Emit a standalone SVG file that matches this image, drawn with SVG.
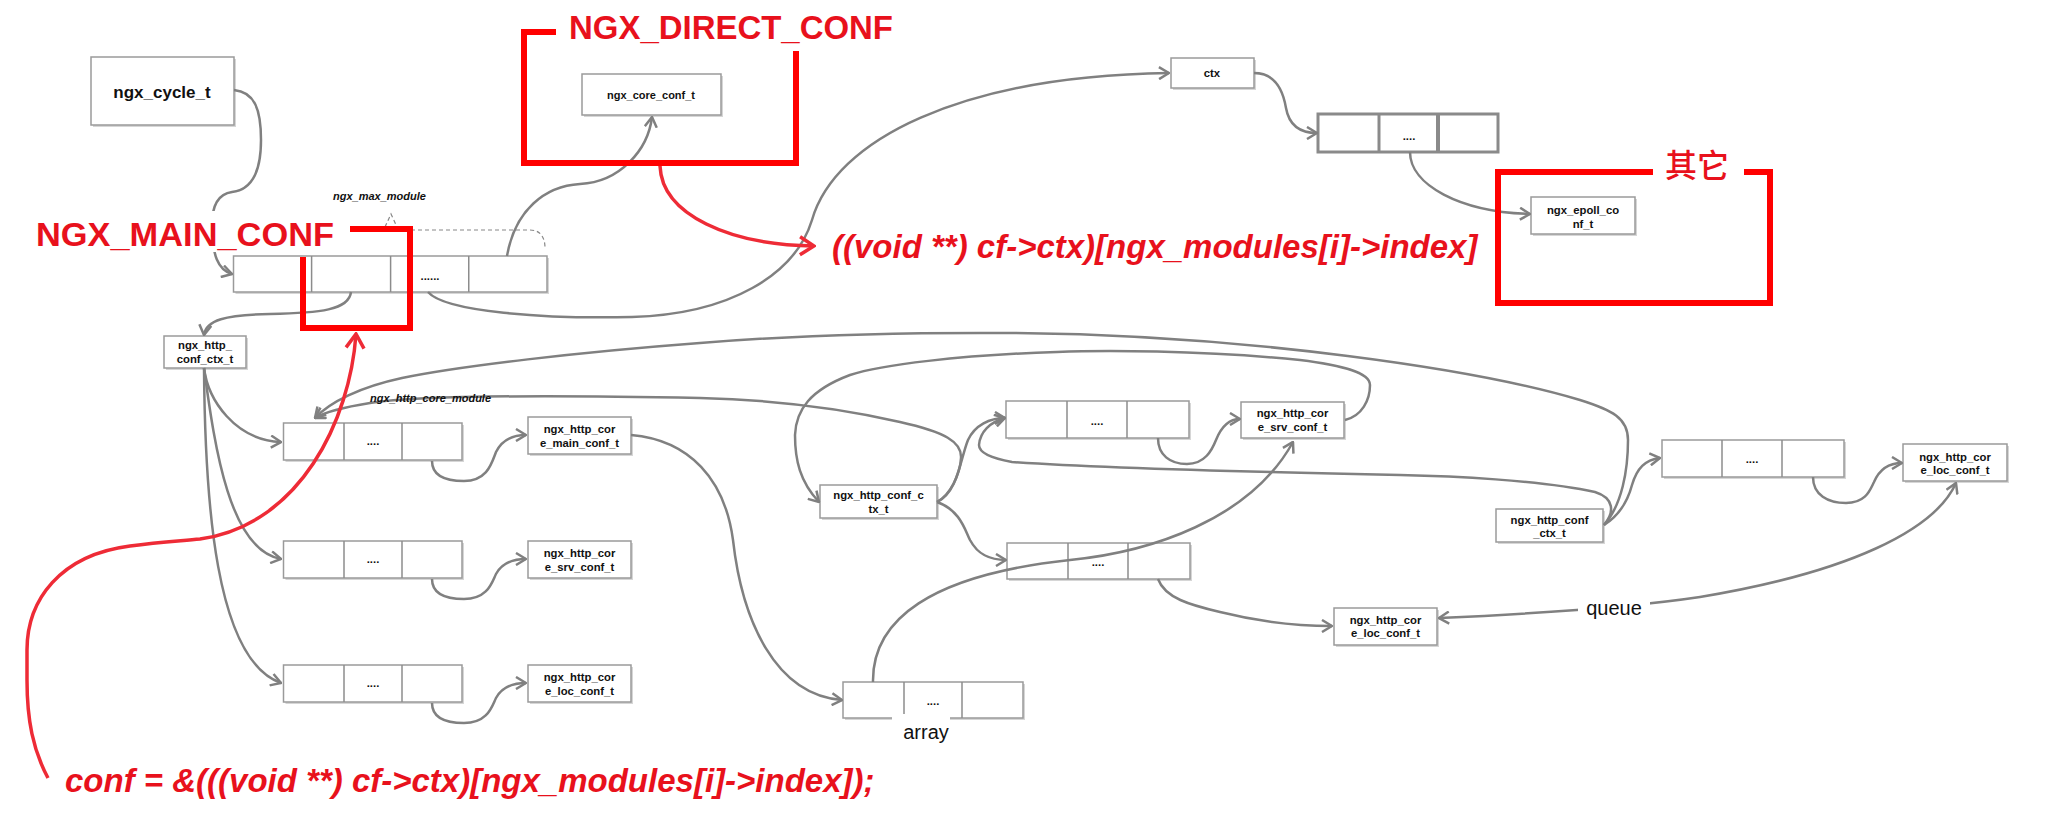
<svg xmlns="http://www.w3.org/2000/svg" width="2048" height="819" viewBox="0 0 2048 819">
<defs>
<style>
.box{fill:#fff;stroke:#9a9a9a;stroke-width:1.5}
.sh{fill:#d6d6d6}
.dv{stroke:#8c8c8c;stroke-width:1.5}
.t{font-family:"Liberation Sans",Arial,sans-serif;font-size:11.3px;font-weight:bold;fill:#111;text-anchor:middle}
.it{font-family:"Liberation Sans",Arial,sans-serif;font-size:11px;font-weight:bold;font-style:italic;fill:#111}
.lbl{font-family:"Liberation Sans",Arial,sans-serif;font-size:20px;fill:#111;text-anchor:middle}
.c{fill:none;stroke:#808080;stroke-width:2.5;marker-end:url(#ah)}
.rb{fill:none;stroke:#ff0000;stroke-width:6}
.rc{fill:none;stroke:#ee2b36;stroke-width:3.5;marker-end:url(#rah)}
.rt{font-family:"Liberation Sans",Arial,sans-serif;font-weight:bold;fill:#e8111c}
.dash{fill:none;stroke:#888;stroke-width:1.2;stroke-dasharray:4 3}
</style>
<marker id="ah" viewBox="0 0 12 14" refX="11" refY="7" markerWidth="12" markerHeight="14" markerUnits="userSpaceOnUse" orient="auto-start-reverse">
<path d="M1,1 L11,7 L1,13" fill="none" stroke="#808080" stroke-width="2.5"/>
</marker>
<marker id="rah" viewBox="0 0 18 22" refX="16" refY="11" markerWidth="18" markerHeight="22" markerUnits="userSpaceOnUse" orient="auto">
<path d="M2,2 L16,11 L2,20" fill="none" stroke="#ee2b36" stroke-width="3.5"/>
</marker>
</defs>
<rect width="2048" height="819" fill="#fff"/>

<g id="n-cycle">
<rect class="sh" x="93" y="59" width="143" height="68"/>
<rect class="box" x="91" y="57" width="143" height="68"/>
<text class="t" x="162" y="98" style="font-size:17px">ngx_cycle_t</text>
</g>

<g id="n-core-conf">
<rect class="sh" x="584" y="76" width="139" height="41"/>
<rect class="box" x="582" y="74" width="139" height="41"/>
<text class="t" x="651" y="99" style="font-size:11px">ngx_core_conf_t</text>
</g>

<g id="n-main-array">
<rect class="sh" x="235.5" y="258" width="313.5" height="36"/>
<rect class="box" x="233.5" y="256" width="313.5" height="36"/>
<line class="dv" x1="311.6" y1="256" x2="311.6" y2="292"/>
<line class="dv" x1="390.6" y1="256" x2="390.6" y2="292"/>
<line class="dv" x1="468.75" y1="256" x2="468.75" y2="292"/>
<text class="t" x="430" y="280">......</text>
</g>
<g id="n-max-module">
<text class="it" x="333" y="200">ngx_max_module</text>
<path class="dash" d="M385,227 L391,214 L397,227 M397,230 H530 C540,230 545,237 545,248"/>
</g>

<g id="n-ctx">
<rect class="sh" x="1173" y="60" width="83" height="30"/>
<rect class="box" x="1171" y="58" width="83" height="30"/>
<text class="t" x="1212" y="77">ctx</text>
</g>

<g id="n-event-array">
<rect x="1318" y="114" width="180" height="38" fill="#fff" stroke="#8a8a8a" stroke-width="3"/>
<line x1="1379" y1="114" x2="1379" y2="152" stroke="#8a8a8a" stroke-width="3"/>
<line x1="1438" y1="114" x2="1438" y2="152" stroke="#8a8a8a" stroke-width="4"/>
<text class="t" x="1409" y="140">....</text>
</g>

<g id="n-epoll-conf">
<rect class="sh" x="1533" y="199" width="104" height="37"/>
<rect class="box" x="1531" y="197" width="104" height="37"/>
<text class="t" x="1583" y="214">ngx_epoll_co</text>
<text class="t" x="1583" y="228">nf_t</text>
</g>

<g id="n-http-conf-ctx">
<rect class="sh" x="166" y="338" width="82" height="32"/>
<rect class="box" x="164" y="336" width="82" height="32"/>
<text class="t" x="205" y="349">ngx_http_</text>
<text class="t" x="205" y="363">conf_ctx_t</text>
</g>

<g id="n-main-conf-array">
<rect class="sh" x="285.5" y="425" width="178.5" height="37"/>
<rect class="box" x="283.5" y="423" width="178.5" height="37"/>
<line class="dv" x1="344" y1="423" x2="344" y2="460"/>
<line class="dv" x1="402" y1="423" x2="402" y2="460"/>
<text class="t" x="373" y="445">....</text>
</g>
<g id="n-srv-conf-array">
<rect class="sh" x="285.5" y="543" width="178.5" height="37"/>
<rect class="box" x="283.5" y="541" width="178.5" height="37"/>
<line class="dv" x1="344" y1="541" x2="344" y2="578"/>
<line class="dv" x1="402" y1="541" x2="402" y2="578"/>
<text class="t" x="373" y="563">....</text>
</g>
<g id="n-loc-conf-array">
<rect class="sh" x="285.5" y="667" width="178.5" height="37"/>
<rect class="box" x="283.5" y="665" width="178.5" height="37"/>
<line class="dv" x1="344" y1="665" x2="344" y2="702"/>
<line class="dv" x1="402" y1="665" x2="402" y2="702"/>
<text class="t" x="373" y="687">....</text>
</g>

<g id="n-core-main-conf">
<rect class="sh" x="530" y="419" width="103" height="37"/>
<rect class="box" x="528" y="417" width="103" height="37"/>
<text class="t" x="579.5" y="433">ngx_http_cor</text>
<text class="t" x="579.5" y="447">e_main_conf_t</text>
</g>
<g id="n-core-srv-conf-1">
<rect class="sh" x="530" y="543" width="103" height="37"/>
<rect class="box" x="528" y="541" width="103" height="37"/>
<text class="t" x="579.5" y="557">ngx_http_cor</text>
<text class="t" x="579.5" y="571">e_srv_conf_t</text>
</g>
<g id="n-core-loc-conf-1">
<rect class="sh" x="530" y="667" width="103" height="37"/>
<rect class="box" x="528" y="665" width="103" height="37"/>
<text class="t" x="579.5" y="681">ngx_http_cor</text>
<text class="t" x="579.5" y="695">e_loc_conf_t</text>
</g>

<g id="n-srv-ctx">
<rect class="sh" x="822" y="487" width="117" height="33"/>
<rect class="box" x="820" y="485" width="117" height="33"/>
<text class="t" x="878.5" y="499">ngx_http_conf_c</text>
<text class="t" x="878.5" y="513">tx_t</text>
</g>

<g id="n-srv-srv-array">
<rect class="sh" x="1008" y="403" width="183" height="37"/>
<rect class="box" x="1006" y="401" width="183" height="37"/>
<line class="dv" x1="1067" y1="401" x2="1067" y2="438"/>
<line class="dv" x1="1127" y1="401" x2="1127" y2="438"/>
<text class="t" x="1097" y="425">....</text>
</g>
<g id="n-srv-loc-array">
<rect class="sh" x="1009" y="545" width="183" height="36"/>
<rect class="box" x="1007" y="543" width="183" height="36"/>
<line class="dv" x1="1068" y1="543" x2="1068" y2="579"/>
<line class="dv" x1="1128" y1="543" x2="1128" y2="579"/>
<text class="t" x="1098" y="566">....</text>
</g>

<g id="n-core-srv-conf-2">
<rect class="sh" x="1243" y="404" width="103" height="36"/>
<rect class="box" x="1241" y="402" width="103" height="36"/>
<text class="t" x="1292.5" y="417">ngx_http_cor</text>
<text class="t" x="1292.5" y="431">e_srv_conf_t</text>
</g>

<g id="n-core-loc-conf-2">
<rect class="sh" x="1336" y="610" width="103" height="37"/>
<rect class="box" x="1334" y="608" width="103" height="37"/>
<text class="t" x="1385.5" y="624">ngx_http_cor</text>
<text class="t" x="1385.5" y="637">e_loc_conf_t</text>
</g>

<g id="n-array">
<rect class="sh" x="845" y="684" width="180" height="36"/>
<rect class="box" x="843" y="682" width="180" height="36"/>
<line class="dv" x1="904" y1="682" x2="904" y2="718"/>
<line class="dv" x1="962" y1="682" x2="962" y2="718"/>
<text class="t" x="933" y="705">....</text>
<rect x="892" y="714" width="58" height="30" fill="#fff"/>
<text class="lbl" x="926" y="739">array</text>
</g>

<g id="n-loc-ctx">
<rect class="sh" x="1498" y="511" width="107" height="33"/>
<rect class="box" x="1496" y="509" width="107" height="33"/>
<text class="t" x="1549.5" y="524">ngx_http_conf</text>
<text class="t" x="1549.5" y="537">_ctx_t</text>
</g>

<g id="n-loc-loc-array">
<rect class="sh" x="1664" y="442" width="182" height="37"/>
<rect class="box" x="1662" y="440" width="182" height="37"/>
<line class="dv" x1="1722" y1="440" x2="1722" y2="477"/>
<line class="dv" x1="1782" y1="440" x2="1782" y2="477"/>
<text class="t" x="1752" y="463">....</text>
</g>

<g id="n-core-loc-conf-3">
<rect class="sh" x="1905" y="446" width="104" height="37"/>
<rect class="box" x="1903" y="444" width="104" height="37"/>
<text class="t" x="1955" y="461">ngx_http_cor</text>
<text class="t" x="1955" y="474">e_loc_conf_t</text>
</g>

<g id="connectors">
<path class="c" d="M234,90 C255,92 261,110 261,140 C261,175 250,190 232,192 C218,194 212,205 212,225 C212,255 218,270 232,274"/>
<path class="c" d="M351,292 C349,310 320,313 270,314 C225,315 206,320 204,335"/>
<path class="c" d="M507,256 C515,210 545,186 580,184 C620,182 648,150 652,117"/>
<path class="c" d="M428,292 C445,312 545,319 632,317 C730,314 795,275 812,220 C835,140 960,76 1169,73"/>
<path class="c" d="M1254,73 C1275,73 1283,90 1286,108 C1289,125 1300,133 1317,133"/>
<path class="c" d="M1410,152 C1410,185 1460,212 1530,214"/>
<path class="c" d="M204,368 C208,400 235,440 281,442"/>
<path class="c" d="M204,368 C215,450 230,550 281,559"/>
<path class="c" d="M204,368 C205,500 215,660 281,683"/>
<path class="c" d="M432,461 C432,476 446,481 464,481 C488,481 492,462 496,452 C502,440 512,435 526,435"/>
<path class="c" d="M432,579 C432,594 446,599 464,599 C488,599 492,582 496,574 C502,563 512,559 526,559"/>
<path class="c" d="M432,703 C432,718 446,723 464,723 C488,723 492,706 496,698 C502,687 512,683 526,683"/>
<path class="c" d="M631,435 C690,440 725,480 733,540 C742,620 775,695 842,700"/>
<path class="c" d="M937,502 C958,492 960,460 968,440 C975,425 990,418 1005,418"/>
<path class="c" d="M937,502 C960,510 965,530 970,540 C978,555 990,560 1006,560"/>
<path class="c" d="M937,502 C950,495 960,475 961,458 C962,442 945,432 900,422 C840,408 780,400 700,398 C600,396 430,394 370,403 C345,407 325,412 315,418"/>
<path class="c" d="M1604,525 C1622,505 1628,470 1628,440 C1628,418 1612,410 1580,400 C1480,370 1250,335 1012,333 C850,332 760,338 700,343 C580,352 460,366 402,378 C360,387 330,402 315,418"/>
<path class="c" d="M1604,525 C1620,515 1628,500 1632,485 C1637,468 1645,460 1660,458"/>
<path class="c" d="M1604,525 C1615,512 1614,498 1595,492 C1540,480 1450,476 1400,475 C1250,472 1100,468 1012,462 C990,458 979,452 979,445 C980,432 990,422 1005,418"/>
<path class="c" d="M1345,420 C1362,416 1370,400 1370,385 C1370,372 1340,365 1300,360 C1200,350 1100,350 1057,352 C960,355 880,365 850,375 C810,390 796,410 795,435 C795,460 800,482 819,502"/>
<path class="c" d="M1158,438 C1158,455 1170,464 1187,464 C1205,464 1212,450 1216,440 C1222,425 1230,419 1240,419"/>
<path class="c" d="M1158,579 C1165,598 1190,605 1220,612 C1260,622 1300,626 1332,626"/>
<path class="c" d="M873,682 C872,620 930,575 1070,560 C1150,552 1250,520 1293,442"/>
<path class="c" d="M1813,477 C1813,495 1828,503 1846,503 C1866,503 1870,490 1874,482 C1880,468 1890,463 1902,463"/>
<path class="c" style="marker-start:url(#ah)" d="M1956,483 C1935,530 1850,572 1700,597 C1640,606 1550,613 1439,618"/>
<rect x="1578" y="592" width="72" height="30" fill="#fff"/>
<text class="lbl" x="1614" y="615">queue</text>
<text class="it" x="370" y="402">ngx_http_core_module</text>
</g>

<g id="annotations">
<rect x="30" y="211" width="318" height="41" fill="#fff"/>
<text class="rt" x="36" y="246" font-size="34" textLength="298" lengthAdjust="spacingAndGlyphs">NGX_MAIN_CONF</text>
<path class="rb" d="M350,229 H410 V328 H303 V257"/>
<text class="rt" x="569" y="39" font-size="34" textLength="324" lengthAdjust="spacingAndGlyphs">NGX_DIRECT_CONF</text>
<path class="rb" d="M556,32 H524 V163 H796 V51"/>
<path class="rb" d="M1653,172 H1498 V303 H1770 V172 H1744"/>
<text x="1697" y="177" font-family="'Liberation Sans','Noto Sans CJK SC',sans-serif" font-size="32" font-weight="500" fill="#e8111c" text-anchor="middle">其它</text>
<path class="rc" d="M660,166 C662,215 730,245 814,246"/>
<text class="rt" x="832" y="258" font-size="33" font-style="italic">((void **) cf-&gt;ctx)[ngx_modules[i]-&gt;index]</text>
<path class="rc" d="M48,778 C33,750 27,720 27,680 L27,650 C27,600 60,555 130,546 C160,542 180,541 200,539 C300,525 350,420 356,334"/>
<text class="rt" x="65" y="792" font-size="33" font-style="italic">conf = &amp;(((void **) cf-&gt;ctx)[ngx_modules[i]-&gt;index]);</text>
</g>
</svg>
